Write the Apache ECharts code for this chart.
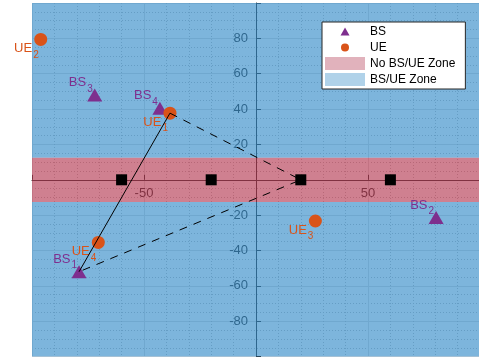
<!DOCTYPE html>
<html><head><meta charset="utf-8">
<script src="https://cdn.jsdelivr.net/npm/echarts@6/dist/echarts.min.js"></script>
<style>html,body{margin:0;padding:0;background:#fff}#c{width:479px;height:360px}</style>
</head><body><div id="c"></div>
<script>
// ---- data ----
const bsPoints = [[-79, -52], [80.4, -21.3], [-72, 48], [-42.9, 40.5]];
const bsIds = ['1', '2', '3', '4'];
const uePoints = [[-38.4, 37.7], [-96.1, 79.4], [26.5, -23.3], [-70.4, -35.4]];
const ueIds = ['1', '2', '3', '4'];
const risPoints = [[-60, 0], [-20, 0], [20, 0], [60, 0]];
// routes: [set, index]
const solidRoute = [['UE', 0], ['BS', 0]];
const dashedRoute = [['UE', 0], ['RIS', 2], ['BS', 0]];
// zones: [x0, x1, y0, y1]
const bsueZone = [[-100, 100, 12.5, 100], [-100, 100, -100, -12.5]];
const noZone = [[-100, 100, -12.5, 12.5]];
const xLabelValues = [-50, 50];
const yLabelValues = [-80, -60, -40, -20, 20, 40, 60, 80];
const legendNames = ['BS', 'UE', 'No BS/UE Zone', 'BS/UE Zone'];

const FONT = 'Liberation Sans, Arial, Helvetica, sans-serif';
const sets = { BS: bsPoints, UE: uePoints, RIS: risPoints };
const routeData = r => r.map(([s, i]) => sets[s][i]);

const GRID = { left: 32, top: 3, width: 448, height: 353.6 };

function rectSeries(name, data, fill, legendColor) {
  return {
    type: 'custom', name, data, z: 1, silent: true,
    encode: { x: [0, 1], y: [2, 3] },
    itemStyle: { color: legendColor },
    renderItem(params, api) {
      const p0 = api.coord([api.value(0), api.value(3)]);
      const p1 = api.coord([api.value(1), api.value(2)]);
      return { type: 'rect', shape: { x: p0[0], y: p0[1], width: p1[0] - p0[0], height: p1[1] - p0[1] }, style: { fill } };
    }
  };
}

function labelCfg(prefix, ids, color, dy) {
  return {
    show: true, position: 'inside', align: 'right', verticalAlign: 'middle',
    offset: [-2, dy],
    formatter: p => '{m|' + prefix + '}{s|' + ids[p.dataIndex] + '}',
    rich: {
      m: { fontSize: 13, color, fontFamily: FONT },
      s: { fontSize: 10, color, fontFamily: FONT, padding: [13, 0, 0, 1] }
    }
  };
}

function axisBase() {
  return {
    type: 'value', min: -100, max: 100, z: 0,
    axisTick: { inside: true, length: 5, lineStyle: { color: '#262626' } },
    splitLine: { show: true, lineStyle: { color: '#dcdcdc', width: 1 } },
    minorSplitLine: { show: true, lineStyle: { color: '#bdbdbd', width: 1, type: [1, 2] } }
  };
}

const chart = echarts.init(document.getElementById('c'), null, { renderer: 'canvas' });
chart.setOption({
  animation: false,
  backgroundColor: '#fff',
  grid: Object.assign({ containLabel: false, outerBoundsMode: 'none' }, GRID),
  xAxis: Object.assign(axisBase(), {
    interval: 50,
    position: 'bottom',
    // place the x axis line at y = 0 (middle of the grid)
    offset: -GRID.height / 2,
    axisLine: { onZero: false, lineStyle: { color: '#262626', width: 1 } },
    minorTick: { show: false, splitNumber: 5 },
    axisLabel: { show: true, margin: 7, fontSize: 13, color: '#262626', fontFamily: FONT,
      showMinLabel: true, showMaxLabel: true, hideOverlap: false,
      formatter: v => xLabelValues.includes(Number(v)) ? String(v) : '' }
  }),
  yAxis: Object.assign(axisBase(), {
    interval: 20,
    position: 'left',
    // place the y axis line at x = 0 (centre of the grid)
    offset: -GRID.width / 2,
    axisLine: { onZero: false, lineStyle: { color: '#262626', width: 1 } },
    minorTick: { show: false, splitNumber: 4 },
    axisLabel: { margin: 8, fontSize: 13, color: '#262626', fontFamily: FONT,
      formatter: v => yLabelValues.includes(Number(v)) ? String(v) : '' }
  }),
  legend: {
    orient: 'vertical', left: 322, top: 22, z: 10,
    padding: [3, 10, 3, 3], itemWidth: 40, itemHeight: 13, itemGap: 3,
    backgroundColor: '#fff', borderColor: '#262626', borderWidth: 1,
    textStyle: { fontSize: 12, color: '#000', fontFamily: FONT },
    selectedMode: false,
    data: [
      { name: legendNames[0], icon: 'path://M0,0M40,13M15.5,10.5L20,2.5L24.5,10.5Z' },
      { name: legendNames[1], icon: 'path://M0,0M40,13M16,6.5A4,4 0 1,0 24,6.5A4,4 0 1,0 16,6.5Z' },
      { name: legendNames[2], icon: 'rect', itemStyle: { color: 'rgb(225,178,188)' } },
      { name: legendNames[3], icon: 'rect', itemStyle: { color: 'rgb(176,210,233)' } }
    ]
  },
  series: [
    rectSeries(legendNames[3], bsueZone, 'rgba(52,139,200,0.64)', 'rgb(176,210,233)'),
    rectSeries(legendNames[2], noZone, 'rgba(180,57,82,0.64)', 'rgb(225,178,188)'),
    {
      type: 'scatter', name: legendNames[0], data: bsPoints, z: 3,
      symbol: 'triangle', symbolSize: [15, 13], itemStyle: { color: '#7E2F8E', opacity: 1 },
      label: labelCfg('BS', bsIds, '#7E2F8E', -12.5)
    },
    {
      type: 'scatter', name: legendNames[1], data: uePoints, z: 3,
      symbol: 'circle', symbolSize: 13, itemStyle: { color: '#D95319', opacity: 1 },
      label: labelCfg('UE', ueIds, '#D95319', 9)
    },
    {
      type: 'line', name: 'solid', data: routeData(solidRoute), z: 4, showSymbol: false, symbol: 'none',
      lineStyle: { color: '#000', width: 1, type: 'solid' }, silent: true
    },
    {
      type: 'line', name: 'dashed', data: routeData(dashedRoute), z: 4, showSymbol: false, symbol: 'none',
      lineStyle: { color: '#000', width: 1, type: [8, 7] }, silent: true
    },
    {
      type: 'scatter', name: 'RIS', data: risPoints, z: 5,
      symbol: 'rect', symbolSize: 11, itemStyle: { color: '#000', opacity: 1 }
    }
  ]
});
</script></body></html>
